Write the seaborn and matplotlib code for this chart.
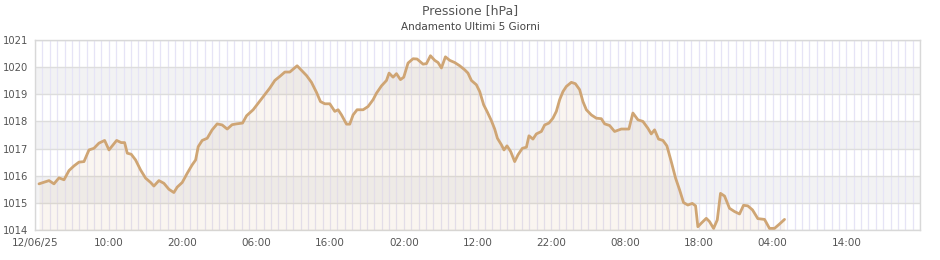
import numpy as np
import pandas as pd
import matplotlib
matplotlib.use("Agg")
import matplotlib.pyplot as plt
import seaborn as sns

# Hours since 12/06/25 00:00
hours = [0.54, 1.22, 1.90, 2.57, 3.25, 3.93, 4.61, 5.28, 5.96, 6.64, 7.32, 7.99, 8.67, 9.44,
         10.03, 11.07, 11.69, 12.15, 12.51, 13.05, 13.64, 14.32, 15.0, 15.68, 16.12, 16.80,
         17.48, 18.16, 18.83, 19.28, 19.96, 20.64, 21.31, 21.78, 22.13, 22.67, 23.35, 24.02,
         24.70, 25.38, 26.06, 26.73, 27.33, 28.14, 28.69, 29.58, 30.26, 30.93, 31.84, 32.52,
         33.20, 33.88, 34.55, 35.54, 36.14, 36.82, 37.49, 38.17, 38.71, 39.30, 39.97, 40.65,
         41.10, 41.56, 42.24, 42.68, 43.13, 43.67, 44.49, 45.16, 45.84, 46.30, 46.98, 47.66,
         48.01, 48.55, 49.01, 49.55, 50.0, 50.58, 51.26, 51.80, 52.62, 53.08, 53.62, 54.20,
         54.65, 55.11, 55.65, 56.23, 56.91, 57.59, 58.27, 58.71, 59.17, 59.85, 60.30, 60.84,
         61.29, 61.88, 62.33, 62.70, 63.24, 63.59, 64.00, 64.50, 65.04, 65.49, 66.08, 66.63,
         66.98, 67.52, 67.98, 68.66, 69.11, 69.69, 70.23, 70.69, 71.14, 71.59, 72.05, 72.72,
         73.27, 73.85, 74.30, 74.76, 75.43, 76.11, 76.79, 77.24, 77.91, 78.59, 79.50, 80.53,
         81.07, 81.75, 82.43, 83.10, 83.56, 84.01, 84.55, 85.14, 85.68, 86.27, 86.86, 87.40,
         87.94, 88.52, 89.12, 89.57, 89.88, 90.34, 91.02, 91.46, 92.01, 92.51, 92.95, 93.50,
         94.17, 94.85, 95.53, 96.07, 96.65, 97.29, 98.01, 98.92, 99.59, 100.27, 100.95, 101.63]

pressure = [1015.70, 1015.76, 1015.82, 1015.70, 1015.92, 1015.85, 1016.19, 1016.36, 1016.50,
            1016.52, 1016.95, 1017.01, 1017.20, 1017.30, 1016.95, 1017.30, 1017.22, 1017.22,
            1016.83, 1016.79, 1016.58, 1016.21, 1015.91, 1015.75, 1015.62, 1015.82, 1015.72,
            1015.50, 1015.38, 1015.58, 1015.75, 1016.09, 1016.40, 1016.58, 1017.07, 1017.30,
            1017.38, 1017.69, 1017.91, 1017.87, 1017.72, 1017.88, 1017.91, 1017.94, 1018.21,
            1018.43, 1018.67, 1018.90, 1019.23, 1019.51, 1019.66, 1019.82, 1019.82, 1020.05,
            1019.88, 1019.69, 1019.44, 1019.07, 1018.73, 1018.65, 1018.65, 1018.37, 1018.43,
            1018.24, 1017.90, 1017.90, 1018.24, 1018.43, 1018.43, 1018.55, 1018.80, 1019.04,
            1019.31, 1019.51, 1019.78, 1019.63, 1019.76, 1019.54, 1019.63, 1020.15, 1020.31,
            1020.30, 1020.11, 1020.13, 1020.42, 1020.25, 1020.17, 1019.97, 1020.38, 1020.25,
            1020.17, 1020.05, 1019.90, 1019.78, 1019.51, 1019.35, 1019.10, 1018.61, 1018.37,
            1018.03, 1017.72, 1017.38, 1017.14, 1016.95, 1017.10, 1016.89, 1016.52, 1016.77,
            1017.01, 1017.05, 1017.47, 1017.35, 1017.54, 1017.63, 1017.87, 1017.94, 1018.12,
            1018.37, 1018.80, 1019.10, 1019.29, 1019.44, 1019.39, 1019.17, 1018.73, 1018.43,
            1018.24, 1018.12, 1018.10, 1017.91, 1017.85, 1017.63, 1017.72, 1017.72, 1018.31,
            1018.06, 1018.00, 1017.75, 1017.54, 1017.69, 1017.35, 1017.30, 1017.10, 1016.52,
            1015.91, 1015.48, 1015.01, 1014.92, 1014.98, 1014.89, 1014.12, 1014.25, 1014.43,
            1014.31, 1014.06, 1014.37, 1015.35, 1015.25, 1014.80, 1014.68, 1014.59, 1014.91,
            1014.89, 1014.74, 1014.42, 1014.39, 1014.06, 1014.06, 1014.22, 1014.39]

tick_hours = [0, 10, 20, 30, 40, 50, 60, 70, 80, 90, 100, 110]
tick_labels = ["12/06/25", "10:00", "20:00", "06:00", "16:00", "02:00", "12:00",
               "22:00", "08:00", "18:00", "04:00", "14:00"]
y_ticks = [1014, 1015, 1016, 1017, 1018, 1019, 1020, 1021]

title = "Pressione [hPa]"
subtitle = "Andamento Ultimi 5 Giorni"

df = pd.DataFrame({"ore": hours, "hPa": pressure})

sns.set_style("white")
plt.rcParams["font.family"] = ["DejaVu Sans"]

line_color = "#cfa574"

fig = plt.figure(figsize=(9.4, 2.6), dpi=100)
ax = fig.add_axes([35 / 940, 1 - 230 / 260, 885 / 940, 190 / 260])

# alternating bands
for lo in [1015, 1017, 1019]:
    ax.axhspan(lo, lo + 1, color="#f2f2f3", zorder=0, lw=0)

sns.lineplot(data=df, x="ore", y="hPa", ax=ax, color=line_color, lw=2.0, zorder=4)
ax.fill_between(df["ore"], df["hPa"], 1014, color=line_color, alpha=0.1, lw=0, zorder=3)

ax.set_xlim(0, 120)
ax.set_ylim(1014, 1021)
ax.set_xticks(tick_hours)
ax.set_xticklabels(tick_labels)
ax.set_xticks(np.arange(0, 121, 1), minor=True)
ax.set_yticks(y_ticks)
ax.set_yticklabels([str(v) for v in y_ticks])

ax.grid(False)
ax.xaxis.grid(True, which="both", color="#e6e4f6", lw=0.9, zorder=1)
ax.yaxis.grid(True, which="major", color="#dddddd", lw=1.0, zorder=2)
ax.set_axisbelow(True)

ax.tick_params(axis="both", which="both", length=0, colors="#555555")
ax.tick_params(axis="x", labelsize=7.5, pad=6)
ax.tick_params(axis="y", labelsize=7.2, pad=5)
ax.set_xlabel("")
ax.set_ylabel("")
for s in ax.spines.values():
    s.set_color("#d8d8d8")
    s.set_linewidth(1.0)

fig.text(470 / 940, 1 - 11 / 260, title, ha="center", va="center", fontsize=9, color="#555555")
fig.text(470 / 940, 1 - 27 / 260, subtitle, ha="center", va="center", fontsize=7.5, color="#444444")

fig.savefig("out.png", dpi=100)
